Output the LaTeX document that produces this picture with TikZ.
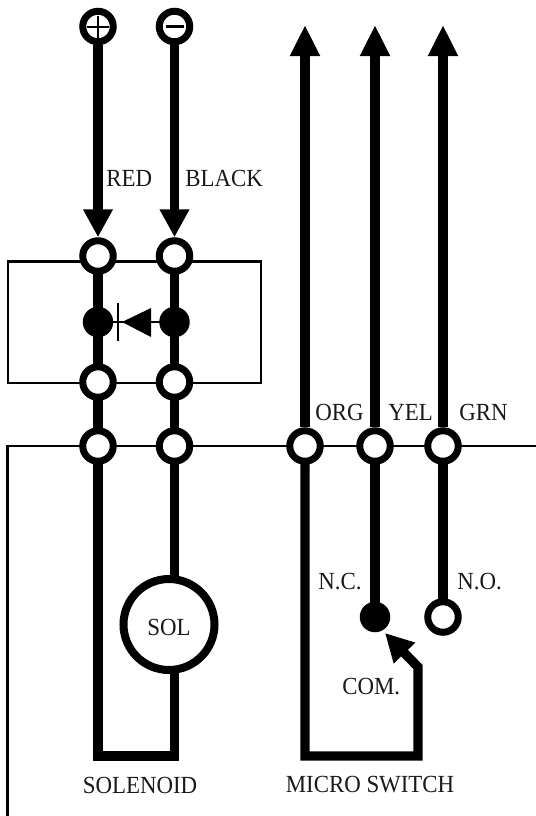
\documentclass[tikz,border=0pt]{standalone}
\usepackage{fontspec}
\setmainfont[FakeStretch=0.93]{Liberation Serif}
\usetikzlibrary{arrows.meta,calc,backgrounds}

\tikzset{
  wire/.style={line width=9.4*0.02cm},
  thin wire/.style={line width=2.6*0.02cm},
  flow/.style={wire,-{Triangle[length=0.56cm,width=0.56cm]}},
  rise/.style={wire,-{Triangle[length=0.62cm,width=0.56cm]}},
  ring/.style={circle,draw,fill=white,line width=7*0.02cm,minimum size=30.5*0.02cm,inner sep=0pt},
  dot/.style={circle,fill=black,minimum size=30.5*0.02cm,inner sep=0pt},
  lbl/.style={font=\fontsize{14}{14}\selectfont,inner sep=0pt,text=black!90}
}

\begin{document}
\begin{tikzpicture}[x=0.02cm,y=-0.02cm]
\useasboundingbox (0,0) rectangle (536,816);
% terminals
\node[ring] (plus) at (98,26.5) {};
\node[ring] (minus) at (174.5,26.5) {};
\node[ring] (redtop) at (98,256) {};
\node[ring] (blacktop) at (174.5,256) {};
\node[dot] (reddot) at (98,322) {};
\node[dot] (blackdot) at (174.5,322) {};
\node[ring] (redlow) at (98,382) {};
\node[ring] (blacklow) at (174.5,382) {};
\node[ring] (redrow) at (98,446) {};
\node[ring] (blackrow) at (174.5,446) {};
\node[ring] (orgrow) at (305,446) {};
\node[ring] (yelrow) at (375,446) {};
\node[ring] (grnrow) at (443,446) {};
\node[dot] (ncdot) at (375,617) {};
\node[ring] (noring) at (443,617) {};
\node[circle,draw,fill=white,line width=8*0.02cm,minimum size=91*0.02cm,inner sep=0pt,font=\fontsize{14}{14}\selectfont,text=black!90,text height=12pt,text depth=0pt] (sol) at (169,624.5) {SOL};
% plus and minus marks
\draw[line width=0.04cm] ($(plus)+(-11,0)$) -- ($(plus)+(11,0)$);
\draw[line width=0.04cm] ($(plus)+(0,-11)$) -- ($(plus)+(0,11)$);
\draw[line width=0.07cm] ($(minus)+(-9,0)$) -- ($(minus)+(9,0)$);
% supply leads
\draw[flow] (plus) -- (redtop);
\draw[flow] (minus) -- (blacktop);
% everything the terminals sit on
\begin{scope}[on background layer]
\draw[thin wire] (8,261.5) rectangle (261,383);
\coordinate (lineend) at (536,446);
\coordinate (linefoot) at (7.5,816);
\draw[thin wire] (lineend) -- (7.5,446) -- (linefoot);
\draw[wire] (redtop.center) -- (redrow.center);
\draw[wire] (blacktop.center) -- (blackrow.center);
\coordinate (redfoot) at (98,756);
\coordinate (blackfoot) at (174.5,756);
\draw[wire] (blackrow.center) -- (blackrow.center |- sol.center);
\draw[wire] (redrow.center) -- (redfoot) -- (blackfoot) -- (blackfoot |- sol.center);
\draw[thin wire] (reddot.center) -- (blackdot.center);
\draw[wire] (yelrow.center) -- (ncdot.center);
\draw[wire] (grnrow.center) -- (noring.center);
\end{scope}
% diode
\coordinate (bartop) at (118,303);
\coordinate (barfoot) at (118,341);
\draw[thin wire] (bartop) -- (barfoot);
\fill (122,322) -- (151,308) -- (151,337) -- cycle;
% micro switch
\coordinate (orgtip) at (305,25);
\coordinate (yeltip) at (375,25);
\coordinate (grntip) at (443,25);
\coordinate (comtip) at (385,633);
\draw[rise] (orgrow) -- (orgtip);
\draw[rise] (yelrow) -- (yeltip);
\draw[rise] (grnrow) -- (grntip);
\begin{scope}[on background layer]
\draw[flow] (orgrow.center) -- (305,756) -- (418,756) -- (418,667) -- (comtip);
\end{scope}
% labels
\node[lbl,anchor=west] (red) at (106,178) {RED};
\node[lbl,anchor=west] (black) at (185,178) {BLACK};
\node[lbl,anchor=west] (org) at (315,412) {ORG};
\node[lbl,anchor=west] (yel) at (388,412) {YEL};
\node[lbl,anchor=west] (grn) at (459,412) {GRN};
\node[lbl,anchor=west] (nc) at (318,582) {N.C.};
\node[lbl,anchor=west] (no) at (457,582) {N.O.};
\node[lbl,anchor=west] (com) at (342,687) {COM.};
\node[lbl] (solenoid) at (140,785) {SOLENOID};
\node[lbl] (micro) at (370,785) {MICRO SWITCH};
\end{tikzpicture}
\end{document}
